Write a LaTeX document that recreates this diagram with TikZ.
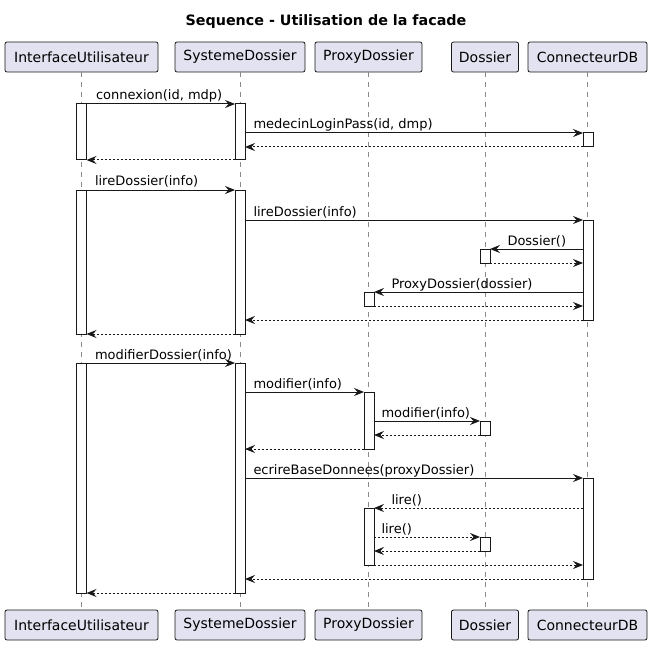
\documentclass[tikz,border=0pt]{standalone}
\usepackage{fontspec}
\setmainfont{DejaVu Sans}
\usetikzlibrary{arrows.meta}
\definecolor{pbox}{HTML}{E2E2F0}
\definecolor{ink}{HTML}{181818}
\definecolor{lifec}{HTML}{8A8A8A}
\newcommand{\actbar}[4]{\node[actbox, minimum height={(#4-#3)*1bp}] (#1) at (#2,{(#3+#4)/2}) {};}
\begin{document}
\begin{tikzpicture}[x=1bp,y=-1bp,
  part/.style={draw=ink, fill=pbox, line width=0.8bp, rounded corners=2bp, minimum height=30bp, inner xsep=2bp, inner ysep=0bp, outer sep=0bp, font=\fontsize{14bp}{16bp}\selectfont},
  actbox/.style={draw=ink, fill=white, line width=1bp, minimum width=10bp, inner sep=0bp, outer sep=0bp},
  life/.style={draw=lifec, line width=0.8bp, dash pattern=on 5bp off 5bp},
  msg/.style={draw=ink, line width=1bp, -{Stealth[length=10bp,width=8bp,inset=3.5bp]}},
  ret/.style={msg, dash pattern=on 2bp off 2bp},
  lbl/.style={font=\fontsize{13bp}{15bp}\selectfont, inner sep=0bp, anchor=base west}
]
\useasboundingbox (0,0) rectangle (652,645);
\node[font=\fontsize{14.3bp}{16bp}\selectfont\bfseries] (title) at (326,22) {Sequence - Utilisation de la facade};

% participants
\node[part, minimum width=153bp] (IUt) at (81.5,57) {InterfaceUtilisateur};
\node[part, minimum width=130bp] (SDt) at (240,57) {SystemeDossier};
\node[part, minimum width=107bp] (PDt) at (368.5,57) {ProxyDossier};
\node[part, minimum width=67bp] (Dt) at (485,57) {Dossier};
\node[part, minimum width=119bp] (CDt) at (587.5,57) {ConnecteurDB};
\node[part, minimum width=153bp] (IUb) at (81.5,625) {InterfaceUtilisateur};
\node[part, minimum width=130bp] (SDb) at (240,625) {SystemeDossier};
\node[part, minimum width=107bp] (PDb) at (368.5,625) {ProxyDossier};
\node[part, minimum width=67bp] (Db) at (485,625) {Dossier};
\node[part, minimum width=119bp] (CDb) at (587.5,625) {ConnecteurDB};

% lifelines
\draw[life] (IUt.south) -- (IUb.north);
\draw[life] (SDt.south) -- (SDb.north);
\draw[life] (PDt.south) -- (PDb.north);
\draw[life] (Dt.south) -- (Db.north);
\draw[life] (CDt.south) -- (CDb.north);

% activations
\actbar{aIU1}{81.5}{104}{160}
\actbar{aSD1}{240}{104}{160}
\actbar{aDB1}{588}{133}{147}
\actbar{aIU2}{81.5}{190}{334}
\actbar{aSD2}{240}{190}{334}
\actbar{aDB2}{588}{220}{320}
\actbar{aD1}{485}{249}{263}
\actbar{aP1}{369}{292}{306}
\actbar{aIU3}{81.5}{363}{593}
\actbar{aSD3}{240}{363}{593}
\actbar{aP2}{369}{392}{449}
\actbar{aD2}{485}{421}{435}
\actbar{aDB3}{588}{478}{579}
\actbar{aP3}{369}{508}{565}
\actbar{aD3}{485}{537}{551}

% block 1
\draw[msg] (aIU1.north east) -- (aSD1.north west) node[lbl, pos=0, xshift=9bp, yshift=4bp] {connexion(id, mdp)};
\draw[msg] (aSD1.east |- aDB1.north) -- (aDB1.north west) node[lbl, pos=0, xshift=8bp, yshift=4bp] {medecinLoginPass(id, dmp)};
\draw[ret] (aDB1.south west) -- (aSD1.east |- aDB1.south);
\draw[ret] (aSD1.south west) -- (aIU1.south east);

% block 2
\draw[msg] (aIU2.north east) -- (aSD2.north west) node[lbl, pos=0, xshift=8bp, yshift=4bp] {lireDossier(info)};
\draw[msg] (aSD2.east |- aDB2.north) -- (aDB2.north west) node[lbl, pos=0, xshift=8bp, yshift=4bp] {lireDossier(info)};
\draw[msg] (aDB2.west |- aD1.north) -- (aD1.north east) node[lbl, pos=1, xshift=17bp, yshift=4bp] {Dossier()};
\draw[ret] (aD1.south east) -- (aDB2.west |- aD1.south);
\draw[msg] (aDB2.west |- aP1.north) -- (aP1.north east) node[lbl, pos=1, xshift=17bp, yshift=4bp] {ProxyDossier(dossier)};
\draw[ret] (aP1.south east) -- (aDB2.west |- aP1.south);
\draw[ret] (aDB2.south west) -- (aSD2.east |- aDB2.south);
\draw[ret] (aSD2.south west) -- (aIU2.south east);

% block 3
\draw[msg] (aIU3.north east) -- (aSD3.north west) node[lbl, pos=0, xshift=8bp, yshift=4bp] {modifierDossier(info)};
\draw[msg] (aSD3.east |- aP2.north) -- (aP2.north west) node[lbl, pos=0, xshift=8bp, yshift=4bp] {modifier(info)};
\draw[msg] (aP2.east |- aD2.north) -- (aD2.north west) node[lbl, pos=0, xshift=7bp, yshift=4bp] {modifier(info)};
\draw[ret] (aD2.south west) -- (aP2.east |- aD2.south);
\draw[ret] (aP2.south west) -- (aSD3.east |- aP2.south);
\draw[msg] (aSD3.east |- aDB3.north) -- (aDB3.north west) node[lbl, pos=0, xshift=8bp, yshift=4bp] {ecrireBaseDonnees(proxyDossier)};
\draw[ret] (aDB3.west |- aP3.north) -- (aP3.north east) node[lbl, pos=1, xshift=17bp, yshift=4bp] {lire()};
\draw[ret] (aP3.east |- aD3.north) -- (aD3.north west) node[lbl, pos=0, xshift=7bp, yshift=4bp] {lire()};
\draw[ret] (aD3.south west) -- (aP3.east |- aD3.south);
\draw[ret] (aP3.south east) -- (aDB3.west |- aP3.south);
\draw[ret] (aDB3.south west) -- (aSD3.east |- aDB3.south);
\draw[ret] (aSD3.south west) -- (aIU3.south east);
\end{tikzpicture}
\end{document}
